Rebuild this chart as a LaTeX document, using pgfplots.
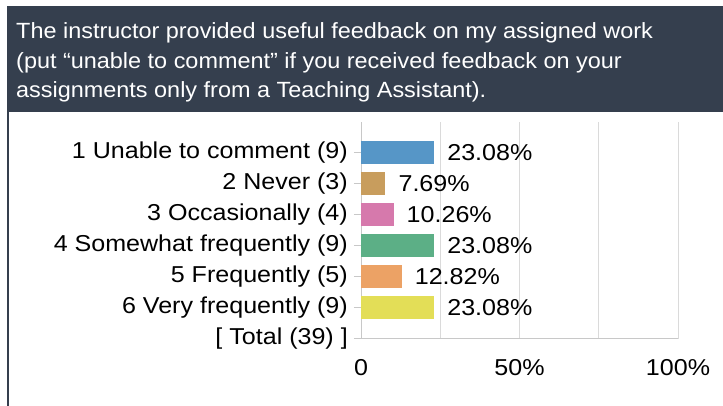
\documentclass[border=0pt]{standalone}
\usepackage{fontspec}
\setmainfont{Liberation Sans}[FakeStretch=1.09]
\newfontfamily\titlefont{Liberation Sans}[FakeStretch=1.065]
\usepackage{pgfplots}
\pgfplotsset{compat=1.18}
\definecolor{hdr}{RGB}{53,63,78}
\definecolor{cA}{RGB}{86,150,199}
\definecolor{cB}{RGB}{200,157,93}
\definecolor{cC}{RGB}{214,121,172}
\definecolor{cD}{RGB}{92,175,134}
\definecolor{cE}{RGB}{236,162,101}
\definecolor{cF}{RGB}{227,222,87}
\definecolor{gridc}{RGB}{218,218,218}
\definecolor{axc}{RGB}{200,200,200}
\begin{document}
\begin{tikzpicture}[x=1pt,y=1pt]
\path[use as bounding box] (0,0) rectangle (723,406);
\fill[white] (0,0) rectangle (723,406);
\fill[hdr] (7,294) rectangle (723,400);
\fill[hdr] (7,0) rectangle (9,294);
\begin{scope}[every node/.style={inner sep=0pt, anchor=base west, text=white, font=\titlefont\fontsize{22}{26}\selectfont}]
\node at (16,367) {The instructor provided useful feedback on my assigned work};
\node at (16,337) {(put “unable to comment” if you received feedback on your};
\node at (16,308) {assignments only from a Teaching Assistant).};
\end{scope}
\begin{axis}[
  at={(361pt,67pt)}, anchor=south west,
  scale only axis, width=317pt, height=217pt,
  xmin=0, xmax=100, ymin=0, ymax=7,
  axis lines*=left,
  axis line style={-, draw=axc, line width=1pt},
  xbar, bar width=23pt, bar shift=0pt,
  xtick={0,25,50,75,100},
  xticklabels={0,,50\%,,100\%},
  ytick={0,1,2,3,4,5,6},
  yticklabels={{[ Total (39) ]},{6 Very frequently (9)},{5 Frequently (5)},{4 Somewhat frequently (9)},{3 Occasionally (4)},{2 Never (3)},{1 Unable to comment (9)}},
  xmajorgrids,
  major grid style={draw=gridc, line width=1pt},
  tick align=outside,
  xtick style={draw=none},
  ytick style={draw=axc, line width=1pt},
  major tick length=7pt,
  /pgf/number format/assume math mode=true,
  tick label style={font=\fontsize{23}{27}\selectfont, text=black},
  yticklabel style={anchor=east, inner sep=0pt, xshift=-6pt},
  xticklabel style={anchor=north, inner sep=0pt, yshift=-13pt},
  point meta=explicit symbolic,
  nodes near coords={\pgfplotspointmeta\%},
  nodes near coords style={anchor=west, inner sep=0pt, xshift=13pt, font=\fontsize{23}{27}\selectfont, text=black},
  clip=false,
]
\addplot[fill=cA, draw=none] coordinates {(23.08,6) [23.08]};
\addplot[fill=cB, draw=none] coordinates {(7.69,5) [7.69]};
\addplot[fill=cC, draw=none] coordinates {(10.26,4) [10.26]};
\addplot[fill=cD, draw=none] coordinates {(23.08,3) [23.08]};
\addplot[fill=cE, draw=none] coordinates {(12.82,2) [12.82]};
\addplot[fill=cF, draw=none] coordinates {(23.08,1) [23.08]};
\end{axis}
\end{tikzpicture}
\end{document}
